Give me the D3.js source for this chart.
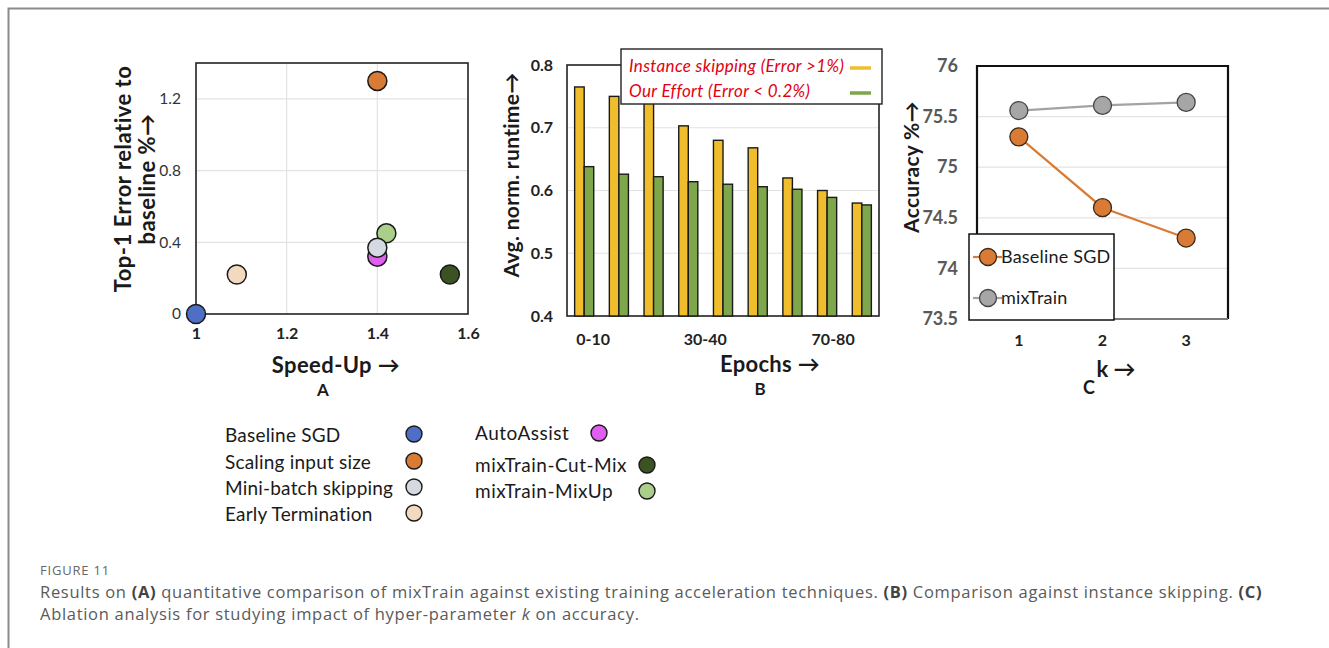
<!DOCTYPE html>
<html><head><meta charset="utf-8">
<script src="https://cdn.jsdelivr.net/npm/d3@7"></script>
<style>body{margin:0;background:#fff} svg{display:block}</style>
</head><body><svg id="c" width="1329" height="648"></svg>
<script>
// ---------- Panel A data ----------
const methodsA = ["Baseline SGD","Scaling input size","Mini-batch skipping","Early Termination","AutoAssist","mixTrain-Cut-Mix","mixTrain-MixUp"];
const speedUpA = [1.0, 1.4, 1.4, 1.09, 1.4, 1.56, 1.42];
const errorA   = [0, 1.30, 0.37, 0.22, 0.32, 0.22, 0.45];
const colorsA  = ["#4f6fc6","#d97b35","#d5dae2","#f3d9c0","#e05ff0","#3b5323","#a9cf8a"];
const drawOrderA = [0,3,1,4,6,5,2];
const xTicksA = [1, 1.2, 1.4, 1.6];
const yTicksA = [0, 0.4, 0.8, 1.2];
// ---------- Panel B data ----------
const epochsB = ["0-10","10-20","20-30","30-40","40-50","50-60","60-70","70-80","80-90"];
const shownEpochLabels = ["0-10","30-40","70-80"];
const instanceSkipping = [0.765, 0.750, 0.740, 0.703, 0.680, 0.668, 0.620, 0.600, 0.580];
const ourEffort        = [0.638, 0.626, 0.622, 0.614, 0.610, 0.606, 0.602, 0.589, 0.577];
const yTicksB = [0.4, 0.5, 0.6, 0.7, 0.8];
const seriesB = ["Instance skipping (Error >1%)", "Our Effort (Error < 0.2%)"];
// ---------- Panel C data ----------
const kValues = ["1","2","3"];
const baselineSGD = [75.3, 74.6, 74.3];
const mixTrain    = [75.56, 75.61, 75.64];
const yTicksC = [73.5, 74, 74.5, 75, 75.5, 76];
const seriesC = ["Baseline SGD", "mixTrain"];

const svg = d3.select("#c");
const F = "Lato, 'Open Sans', sans-serif";
svg.append("rect").attr("width",1329).attr("height",648).attr("fill","#fff");
// frame
svg.append("path").attr("d","M8.5,648 V8.5 H1329").attr("fill","none").attr("stroke","#8a8a8a").attr("stroke-width",2);

function title(g, attrs, txt, size, ls){
  const t = g.append("text").attr("text-anchor","middle").attr("font-family",F).attr("font-weight",700)
    .attr("font-size",size).attr("fill","#1a1a1a").attr("letter-spacing",ls||0).text(txt);
  Object.entries(attrs).forEach(([k,v])=>t.attr(k,v));
  return t;
}

// ================= Panel A =================
{
  const x = d3.scaleLinear().domain([1,1.6]).range([196,468]);
  const y = d3.scaleLinear().domain([0,1.4]).range([314,63]);
  const g = svg.append("g");
  g.selectAll(".gx").data([1.2,1.4]).join("line")
    .attr("x1",d=>x(d)).attr("x2",d=>x(d)).attr("y1",63).attr("y2",314)
    .attr("stroke","#e3e3e3").attr("stroke-width",1.2);
  g.selectAll(".gy").data([0.4,0.8,1.2]).join("line")
    .attr("x1",196).attr("x2",468).attr("y1",d=>y(d)).attr("y2",d=>y(d))
    .attr("stroke","#e3e3e3").attr("stroke-width",1.2);
  g.append("rect").attr("x",196).attr("y",63).attr("width",272).attr("height",251)
    .attr("fill","none").attr("stroke","#222").attr("stroke-width",1.6);
  const ax = g.append("g").attr("transform","translate(0,314)")
    .call(d3.axisBottom(x).tickValues(xTicksA).tickSize(0).tickPadding(14).tickFormat(d3.format("~g")));
  ax.select(".domain").remove();
  ax.selectAll("text").attr("font-family",F).attr("font-weight",700).attr("font-size",16).attr("fill","#222");
  const ay = g.append("g").attr("transform","translate(196,0)")
    .call(d3.axisLeft(y).tickValues(yTicksA).tickSize(0).tickPadding(15).tickFormat(d3.format("~g")));
  ay.select(".domain").remove();
  ay.selectAll("text").attr("font-family",F).attr("font-size",15.5).attr("fill","#333");
  g.selectAll(".pt").data(drawOrderA).join("circle")
    .attr("cx",i=>x(speedUpA[i])).attr("cy",i=>y(errorA[i])).attr("r",9.5)
    .attr("fill",i=>colorsA[i]).attr("stroke","#1a1a1a").attr("stroke-width",1.5);
  const yt = g.append("text").attr("transform","translate(131,179) rotate(-90)")
    .attr("text-anchor","middle").attr("font-family",F).attr("font-weight",700).attr("font-size",22)
    .attr("letter-spacing",0.5).attr("fill","#1a1a1a");
  yt.append("tspan").attr("x",0).attr("dy",0).text("Top-1 Error relative to");
  yt.append("tspan").attr("x",0).attr("dy",24).text("baseline %→");
  title(g,{x:336,y:373},"Speed-Up →",22,0.4);
  title(g,{x:323,y:396},"A",17);

  // legend
  const leftIdx = [0,1,2,3], rightIdx = [4,5,6];
  const ly = [435,462,488,514], ry = [433,465,491];
  const lg = svg.append("g");
  leftIdx.forEach((i,k)=>{
    lg.append("text").attr("x",225).attr("y",ly[k]).attr("dy","0.35em").attr("font-family",F)
      .attr("font-size",19).attr("letter-spacing",0.2).attr("fill","#1a1a1a").text(methodsA[i]);
    lg.append("circle").attr("cx",414).attr("cy",ly[k]-1).attr("r",8)
      .attr("fill",colorsA[i]).attr("stroke","#1a1a1a").attr("stroke-width",1.4);
  });
  const rcx = [599,647,647];
  rightIdx.forEach((i,k)=>{
    lg.append("text").attr("x",475).attr("y",ry[k]).attr("dy","0.35em").attr("font-family",F)
      .attr("font-size",19).attr("letter-spacing",0.5).attr("fill","#1a1a1a").text(methodsA[i]);
    lg.append("circle").attr("cx",rcx[k]).attr("cy",ry[k]).attr("r",8)
      .attr("fill",colorsA[i]).attr("stroke","#1a1a1a").attr("stroke-width",1.4);
  });
}

// ================= Panel B =================
{
  const x0 = d3.scaleBand().domain(epochsB).range([567,879]).paddingInner(0.45).paddingOuter(0.22);
  const x1 = d3.scaleBand().domain([0,1]).range([0,x0.bandwidth()]);
  const y = d3.scaleLinear().domain([0.4,0.8]).range([316,65]);
  const g = svg.append("g");
  g.selectAll(".gy").data([0.5,0.6,0.7]).join("line")
    .attr("x1",567).attr("x2",879).attr("y1",d=>y(d)).attr("y2",d=>y(d))
    .attr("stroke","#e3e3e3").attr("stroke-width",1.2);
  g.append("rect").attr("x",567).attr("y",65).attr("width",312).attr("height",251)
    .attr("fill","none").attr("stroke","#222").attr("stroke-width",1.6);
  const cols = ["#f0be2c","#7ea64b"];
  [instanceSkipping, ourEffort].forEach((vals,s)=>{
    g.selectAll(".b"+s).data(vals).join("rect")
      .attr("x",(d,i)=>x0(epochsB[i])+x1(s)).attr("width",x1.bandwidth())
      .attr("y",d=>y(d)).attr("height",d=>y(0.4)-y(d))
      .attr("fill",cols[s]).attr("stroke","#1a1a1a").attr("stroke-width",1.4);
  });
  const ax = g.append("g").attr("transform","translate(0,316)")
    .call(d3.axisBottom(x0).tickValues(shownEpochLabels).tickSize(0).tickPadding(18));
  ax.select(".domain").remove();
  ax.selectAll("text").attr("dx",(d,i)=>[9,17,6][i]).attr("font-family",F).attr("font-weight",700).attr("font-size",16).attr("fill","#222");
  const ay = g.append("g").attr("transform","translate(567,0)")
    .call(d3.axisLeft(y).tickValues(yTicksB).tickSize(0).tickPadding(14).tickFormat(d3.format(".1f")));
  ay.select(".domain").remove();
  ay.selectAll("text").attr("font-family",F).attr("font-weight",700).attr("font-size",16).attr("fill","#222");
  title(g,{transform:"translate(519,175) rotate(-90)"},"Avg. norm. runtime→",21,0.3);
  title(g,{x:770,y:372},"Epochs →",22,0.3);
  title(g,{x:760,y:395},"B",17);
  // legend
  g.append("rect").attr("x",621).attr("y",49).attr("width",261).attr("height",55)
    .attr("fill","#fff").attr("stroke","#222").attr("stroke-width",1.4);
  seriesB.forEach((t,s)=>{
    g.append("text").attr("x",629).attr("y",[72,97][s]).attr("font-family",F).attr("font-style","italic")
      .attr("font-size",17).attr("letter-spacing",0.35).attr("fill","#e3000f").text(t);
    g.append("line").attr("x1",850).attr("x2",871).attr("y1",[68,93][s]).attr("y2",[68,93][s])
      .attr("stroke",cols[s]).attr("stroke-width",3.5);
  });
}

// ================= Panel C =================
{
  const x = d3.scaleBand().domain(kValues).range([977,1228]);
  const cx = d => x(d) + x.bandwidth()/2;
  const y = d3.scaleLinear().domain([73.5,76]).range([319,66]);
  const g = svg.append("g");
  g.selectAll(".gy").data([74,74.5,75,75.5]).join("line")
    .attr("x1",977).attr("x2",1228).attr("y1",d=>y(d)).attr("y2",d=>y(d))
    .attr("stroke","#e3e3e3").attr("stroke-width",1.2);
  g.append("path").attr("d",`M977,319 V66 H1228 V319`).attr("fill","none").attr("stroke","#111").attr("stroke-width",2.2);
  g.append("line").attr("x1",977).attr("x2",1228).attr("y1",319).attr("y2",319).attr("stroke","#7a7a7a").attr("stroke-width",2);
  const ay = g.append("g").attr("transform","translate(977,0)")
    .call(d3.axisLeft(y).tickValues(yTicksC).tickSize(0).tickPadding(19).tickFormat(d3.format("~g")));
  ay.select(".domain").remove();
  ay.selectAll("text").attr("font-family",F).attr("font-weight",700).attr("font-size",18).attr("fill","#595959");
  const ax = g.append("g").attr("transform","translate(0,319)")
    .call(d3.axisBottom(x).tickSize(0).tickPadding(16));
  ax.select(".domain").remove();
  ax.selectAll("text").attr("font-family",F).attr("font-weight",700).attr("font-size",16).attr("fill","#222");
  const lc = ["#d97b35","#a3a3a3"], pf = ["#d97b35","#a6a6a6"], ps = ["#3a2a1a","#444"];
  [baselineSGD, mixTrain].forEach((vals,s)=>{
    g.append("path").datum(vals)
      .attr("d",d3.line().x((d,i)=>cx(kValues[i])).y(d=>y(d)))
      .attr("fill","none").attr("stroke",lc[s]).attr("stroke-width",2.2);
    g.selectAll(".p"+s).data(vals).join("circle")
      .attr("cx",(d,i)=>cx(kValues[i])).attr("cy",d=>y(d)).attr("r",9)
      .attr("fill",pf[s]).attr("stroke",ps[s]).attr("stroke-width",1.3);
  });
  title(g,{transform:"translate(919,167) rotate(-90)"},"Accuracy %→",21,0.3);
  title(g,{x:1116,y:377},"k →",22);
  title(g,{x:1089,y:394},"C",18);
  // legend
  g.append("rect").attr("x",969).attr("y",234).attr("width",145).attr("height",86)
    .attr("fill","#fff").attr("stroke","#111").attr("stroke-width",1.5);
  seriesC.forEach((t,s)=>{
    const yy = [257,298][s];
    g.append("line").attr("x1",973).attr("x2",1002).attr("y1",yy).attr("y2",yy).attr("stroke",lc[s]).attr("stroke-width",2.2);
    g.append("circle").attr("cx",988).attr("cy",yy).attr("r",8.5).attr("fill",pf[s]).attr("stroke",ps[s]).attr("stroke-width",1.3);
    g.append("text").attr("x",1001).attr("y",yy).attr("dy","0.35em").attr("font-family",F)
      .attr("font-size",18).attr("letter-spacing",0.2).attr("fill","#1a1a1a").text(t);
  });
}

// ================= Caption =================
{
  const CF = "'Open Sans', Lato, sans-serif";
  svg.append("text").attr("x",40).attr("y",575).attr("font-family",CF).attr("font-size",13)
    .attr("fill","#666").attr("letter-spacing",0.8).text("FIGURE 11");
  const l1 = svg.append("text").attr("x",40).attr("y",598).attr("font-family",CF).attr("font-size",16.5)
    .attr("letter-spacing",0.7).attr("fill","#5a5a5a");
  [["Results on ",0],["(A)",1],[" quantitative comparison of mixTrain against existing training acceleration techniques. ",0],["(B)",1],[" Comparison against instance skipping. ",0],["(C)",1]]
    .forEach(([t,b])=>l1.append("tspan").attr("font-weight",b?700:400).attr("fill",b?"#444":"#5a5a5a").text(t));
  const l2 = svg.append("text").attr("x",40).attr("y",620).attr("font-family",CF).attr("font-size",16.5)
    .attr("letter-spacing",0.7).attr("fill","#5a5a5a");
  [["Ablation analysis for studying impact of hyper-parameter ",""],["k","italic"],[" on accuracy.",""]]
    .forEach(([t,s])=>l2.append("tspan").attr("font-style",s||null).text(t));
}
</script></body></html>
